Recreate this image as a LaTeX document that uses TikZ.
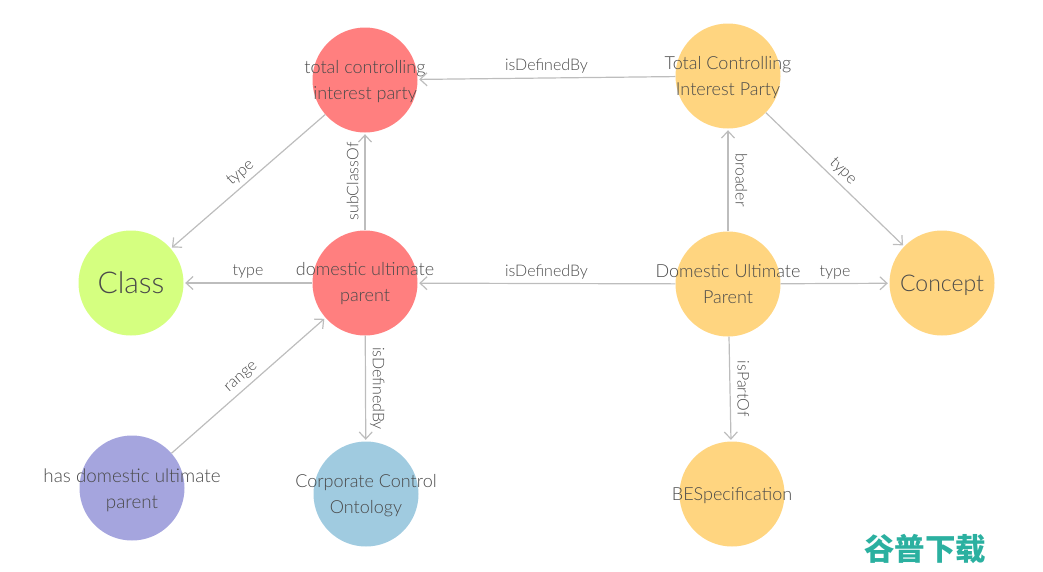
\documentclass[tikz,border=0pt]{standalone}
\usepackage{fontspec}
\setmainfont{Lato Light}
\newfontfamily\cjkfont{Noto Sans CJK SC Black}
\usetikzlibrary{arrows.meta}
\definecolor{redball}{HTML}{FF7F7F}
\definecolor{yellowball}{HTML}{FFD580}
\definecolor{limeball}{HTML}{D5FF80}
\definecolor{purpleball}{HTML}{A5A5DE}
\definecolor{blueball}{HTML}{A0CBE0}
\definecolor{edgegray}{HTML}{BDBDBD}
\definecolor{textgray}{HTML}{4A4A4A}
\definecolor{marktext}{HTML}{2BB0A0}
\tikzset{
    ball/.style={circle, minimum size=105pt, inner sep=0pt, text=textgray},
    balltext/.style={align=center, text=textgray, font=\fontsize{18}{26}\selectfont, inner sep=0pt, yshift=-2pt},
    link/.style={draw=edgegray, line width=1.2pt, -{Straight Barb[length=7pt,width=13pt]}, shorten >=1.5pt},
    linktext/.style={text=textgray, font=\fontsize{16}{18}\selectfont, inner sep=4pt}
}
\begin{document}
\begin{tikzpicture}[x=1pt, y=-1pt]
    \useasboundingbox (0,0) rectangle (1043,571);

    \node[ball, fill=redball, label={[balltext]center:{total controlling\\interest party}}] (total) at (365,80) {};
    \node[ball, fill=yellowball, label={[balltext]center:{Total Controlling\\Interest Party}}] (Total) at (728,76) {};
    \node[ball, fill=limeball, label={[balltext, yshift=2pt, font=\fontsize{30}{30}\selectfont]center:Class}] (class) at (131,283) {};
    \node[ball, fill=redball, label={[balltext, yshift=1pt]center:{domestic ultimate\\parent}}] (domestic) at (365,283) {};
    \node[ball, fill=yellowball, label={[balltext, yshift=2pt]center:{Domestic Ultimate\\Parent}}] (Domestic) at (728,284) {};
    \node[ball, fill=yellowball, label={[balltext, font=\fontsize{23}{26}\selectfont]center:Concept}] (concept) at (942,283) {};
    \node[ball, fill=purpleball, label={[balltext, font=\fontsize{18.8}{26}\selectfont]center:{has domestic ultimate\\parent}}] (has) at (132,488) {};
    \node[ball, fill=blueball, label={[balltext]center:{Corporate Control\\Ontology}}] (corporate) at (366,494) {};
    \node[ball, fill=yellowball, label={[balltext]center:BESpecification}] (spec) at (732,494) {};

    \draw[link] (Total) -- node[linktext, above] {isDefinedBy} (total);
    \draw[link] (total) -- node[linktext, above, sloped] {type} (class);
    \draw[link] (domestic) -- node[linktext, above, rotate=90, inner sep=6pt] {subClassOf} (total);
    \draw[link] (domestic) -- node[linktext, above] {type} (class);
    \draw[link] (domestic) -- node[linktext, above, rotate=-90] {isDefinedBy} (corporate);
    \draw[link] (has) -- node[linktext, above, sloped] {range} (domestic);
    \draw[link] (Domestic) -- node[linktext, above] {isDefinedBy} (domestic);
    \draw[link] (Domestic) -- node[linktext, above, rotate=-90, inner sep=7pt] {broader} (Total);
    \draw[link] (Total) -- node[linktext, above, sloped] {type} (concept);
    \draw[link] (Domestic) -- node[linktext, above] {type} (concept);
    \draw[link] (Domestic) -- node[linktext, above, rotate=-90, inner sep=7pt] {isPartOf} (spec);

    \node[text=marktext, font=\cjkfont\fontsize{30.5}{30}\selectfont, inner sep=0pt] (mark) at (925,549) {谷普下载};
\end{tikzpicture}
\end{document}
